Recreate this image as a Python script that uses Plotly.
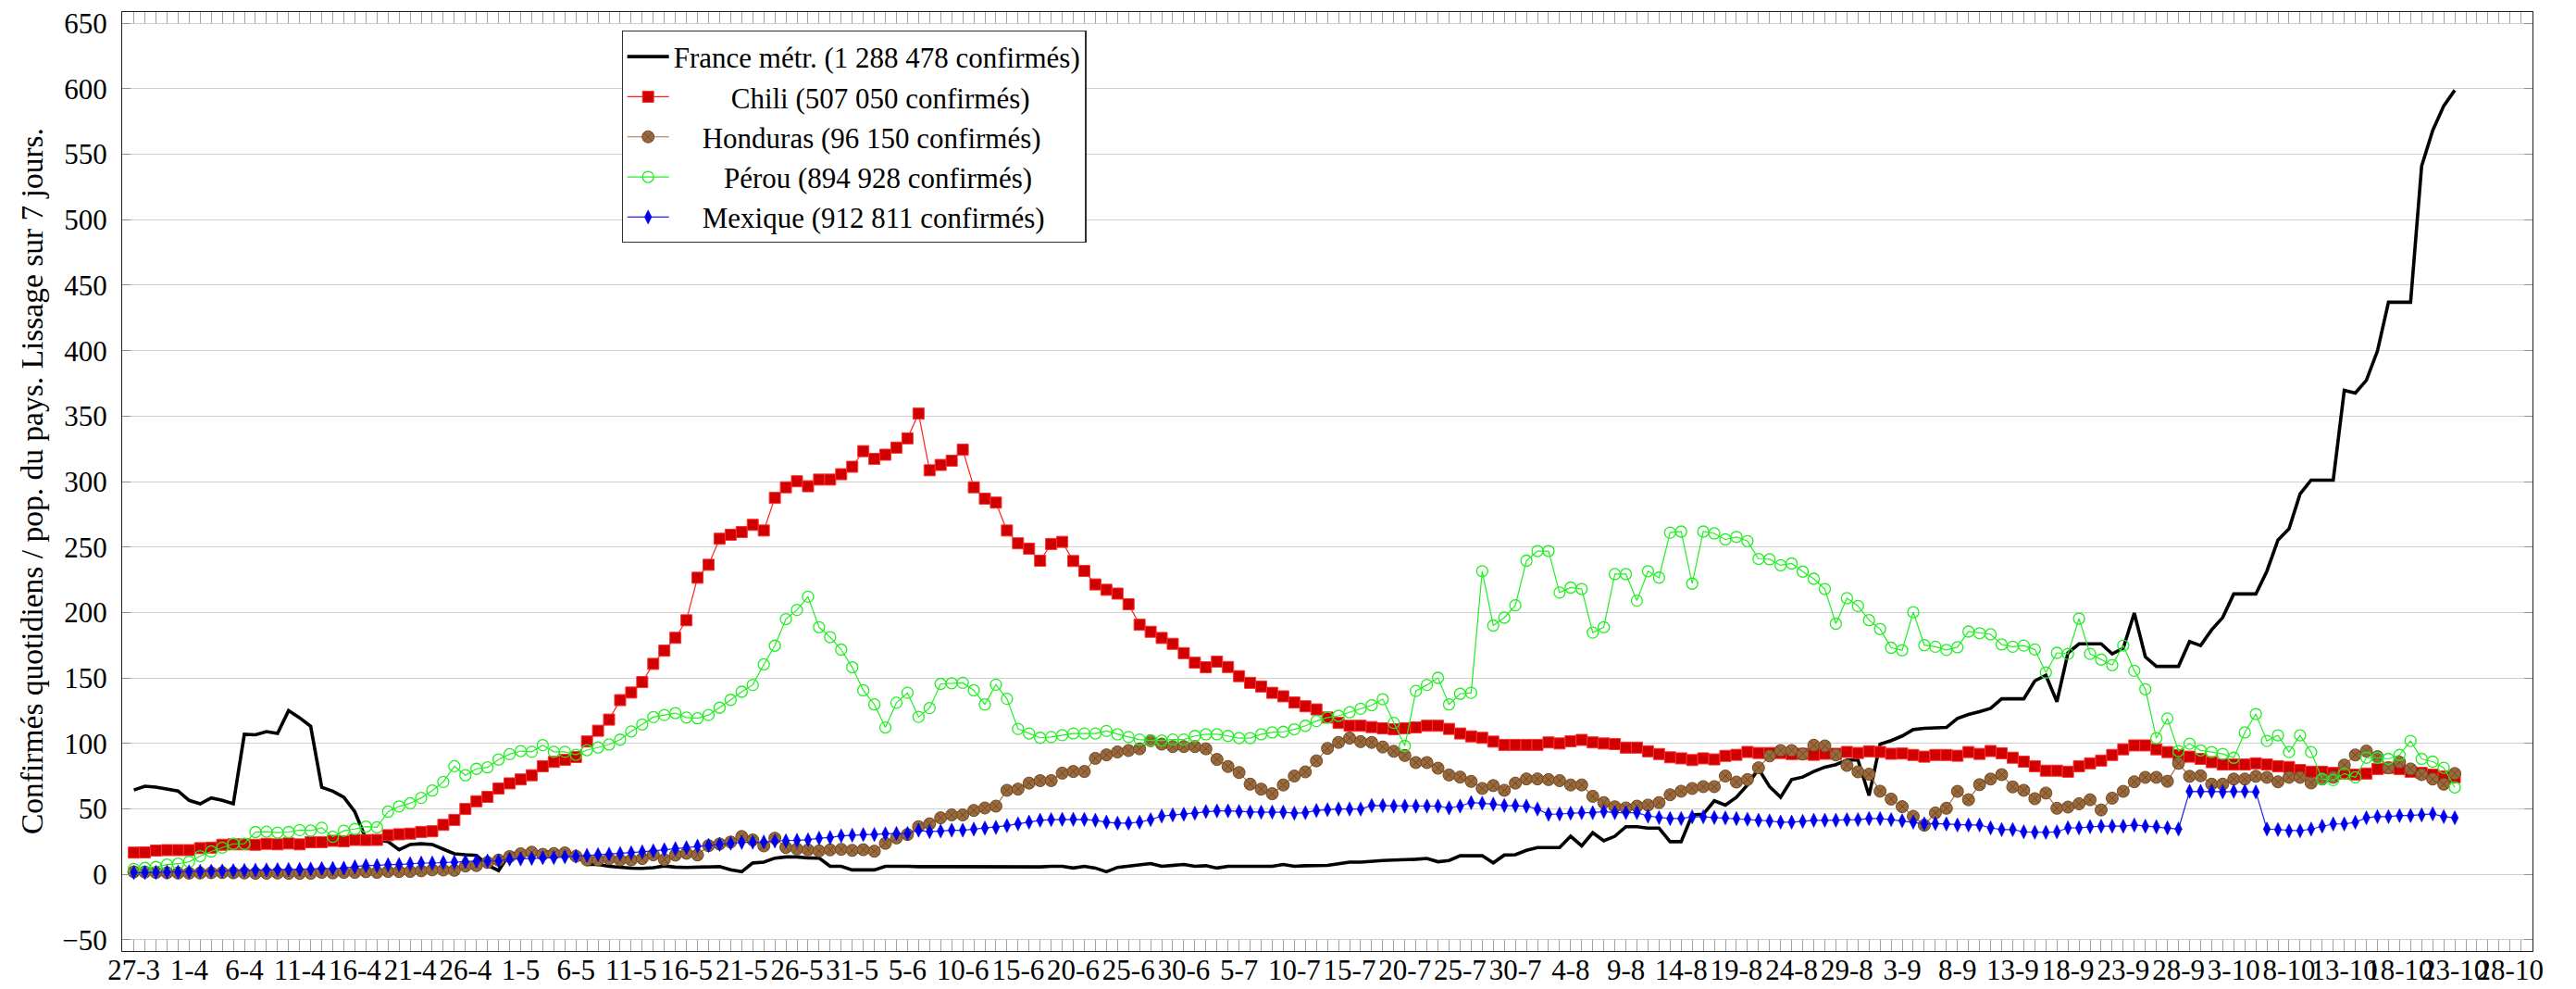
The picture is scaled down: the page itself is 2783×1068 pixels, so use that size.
import pandas as pd
import plotly.graph_objects as go

# ---------------- data (daily, 7-day smoothed, per population) ----------------
start_date = "2020-03-27"
n_days = 211

france = [
    64.3, 67.2, 66.5, 65.0, 63.6, 56.4, 53.8, 58.2, 56.4, 53.8,
    106.9, 106.5, 109.0, 107.6, 125.0, 119.5, 113.0, 66.4, 63.4, 58.8,
    47.6, 27.0, 26.0, 25.0, 18.7, 22.7, 23.3, 22.7, 19.1, 15.6,
    14.9, 14.4, 7.0, 2.8, 15.6, 16.5, 17.0, 16.8, 17.0, 16.3,
    15.0, 7.5, 7.4, 6.0, 5.0, 4.6, 4.4, 5.0, 6.3, 5.4,
    5.2, 5.6, 5.8, 5.8, 3.4, 1.9, 8.6, 9.2, 12.3, 13.2,
    13.2, 12.4, 12.3, 6.0, 6.0, 3.3, 3.3, 3.3, 6.0, 6.3,
    6.0, 5.8, 5.8, 5.6, 5.6, 5.5, 5.4, 5.4, 5.2, 5.2,
    5.2, 5.4, 5.6, 6.0, 6.0, 4.7, 6.0, 4.7, 1.9, 5.2,
    6.0, 7.4, 8.1, 6.0, 6.5, 7.4, 6.0, 6.5, 4.7, 6.0,
    6.0, 6.0, 6.5, 6.0, 7.4, 6.0, 6.5, 6.6, 6.7, 8.0,
    9.2, 9.2, 10.0, 10.5, 10.8, 10.8, 11.4, 12.0, 9.5, 10.5,
    14.1, 14.1, 14.1, 8.7, 14.6, 14.9, 18.2, 20.4, 20.4, 20.4,
    29.0, 21.7, 31.7, 25.5, 29.0, 36.3, 36.3, 35.2, 35.2, 24.9,
    24.9, 45.3, 45.8, 56.1, 52.8, 58.8, 68.2, 80.4, 66.9, 58.8,
    72.3, 74.2, 78.5, 81.8, 83.7, 87.2, 87.2, 60.1, 99.4, 102.1,
    105.6, 110.5, 111.5, 112.0, 112.1, 119.0, 122.0, 124.2, 126.7, 134.0,
    134.0, 134.0, 147.7, 152.0, 131.8, 169.1, 176.0, 176.0, 176.0, 168.3,
    172.6, 199.5, 166.1, 158.8, 158.8, 158.8, 177.7, 174.7, 186.7, 196.1,
    214.1, 214.1, 214.1, 231.6, 255.3, 263.9, 290.5, 301.1, 301.1, 301.1,
    369.7, 367.6, 377.4, 399.7, 437.0, 437.0, 437.0, 541.1, 568.2, 587.0,
    599.0,
]

chili = [
    16.5, 16.7, 18.1, 18.4, 18.4, 18.4, 19.9, 20.3, 22.5, 22.8,
    22.8, 22.5, 23.2, 22.8, 23.5, 22.8, 24.4, 24.5, 25.5, 25.2,
    26.2, 26.1, 26.2, 29.8, 30.5, 31.0, 32.3, 32.8, 37.7, 41.5,
    49.8, 55.7, 59.1, 65.4, 69.4, 72.4, 75.6, 82.5, 85.8, 87.4,
    89.5, 101.4, 109.6, 118.1, 133.0, 138.8, 146.8, 160.7, 170.8, 180.6,
    194.0, 226.5, 236.4, 256.3, 259.3, 261.4, 266.9, 262.6, 287.5, 295.6,
    300.2, 296.4, 301.5, 301.5, 305.6, 311.3, 323.2, 317.3, 320.5, 325.9,
    333.0, 351.9, 308.6, 312.7, 315.9, 324.3, 295.6, 286.9, 283.9, 262.6,
    252.8, 248.7, 239.5, 252.3, 253.9, 239.3, 231.7, 221.4, 217.3, 214.4,
    206.3, 190.6, 185.2, 180.5, 176.0, 168.9, 161.6, 158.1, 162.4, 158.3,
    151.3, 146.2, 143.4, 138.6, 135.9, 131.2, 128.3, 125.9, 119.7, 115.6,
    113.4, 113.4, 112.4, 111.5, 110.7, 111.5, 112.1, 113.4, 113.4, 111.0,
    107.5, 105.3, 104.2, 101.3, 98.8, 98.8, 98.8, 98.8, 100.7, 99.9,
    101.6, 102.6, 100.7, 99.9, 99.4, 96.7, 96.7, 93.9, 91.8, 89.3,
    88.5, 87.2, 88.5, 87.7, 90.4, 91.2, 93.4, 92.6, 92.6, 92.6,
    91.8, 92.0, 91.2, 92.0, 92.0, 93.4, 92.6, 93.9, 93.4, 92.0,
    92.2, 91.1, 89.8, 91.1, 91.1, 90.5, 93.3, 91.9, 94.1, 92.4,
    89.0, 86.0, 82.5, 79.1, 79.1, 78.3, 82.5, 84.7, 86.8, 91.1,
    95.4, 98.4, 98.4, 95.4, 93.3, 91.1, 89.8, 88.1, 85.6, 83.8,
    83.8, 83.8, 84.7, 83.8, 82.5, 81.9, 79.6, 78.3, 78.3, 77.4,
    76.9, 76.1, 76.9, 80.4, 81.3, 80.4, 78.3, 77.4, 76.1, 74.8,
    74.0,
]

honduras = [
    1.8, 1.6, 1.3, 1.1, 0.9, 0.8, 0.9, 1.1, 1.2, 1.0,
    0.9, 0.7, 0.8, 0.9, 0.7, 0.6, 0.7, 1.4, 1.0, 1.4,
    1.4, 1.9, 1.4, 2.1, 2.1, 2.1, 2.6, 3.3, 3.2, 3.0,
    6.2, 6.6, 9.0, 10.8, 13.5, 15.6, 16.8, 15.2, 15.8, 16.3,
    13.8, 10.9, 10.9, 11.8, 10.9, 10.9, 12.0, 14.8, 11.2, 14.6,
    16.0, 14.7, 21.8, 23.1, 24.6, 28.8, 26.2, 21.6, 27.5, 20.4,
    19.3, 18.6, 17.8, 18.6, 19.0, 18.2, 18.7, 17.6, 23.6, 27.7,
    30.3, 36.3, 38.5, 43.1, 45.3, 45.3, 48.7, 50.6, 52.0, 64.1,
    65.0, 69.6, 71.5, 71.5, 77.2, 78.5, 78.5, 88.5, 91.2, 93.4,
    94.5, 95.8, 102.0, 99.4, 97.5, 97.5, 97.5, 95.8, 87.7, 82.3,
    77.7, 68.8, 65.0, 61.5, 68.2, 75.0, 78.2, 86.6, 96.1, 100.7,
    104.0, 101.3, 100.7, 97.2, 93.9, 90.7, 85.3, 85.3, 81.0, 75.8,
    74.2, 70.9, 65.5, 67.7, 64.1, 69.6, 72.8, 72.8, 72.3, 71.5,
    68.2, 68.2, 59.5, 54.7, 51.5, 50.6, 52.0, 52.8, 54.7, 60.7,
    63.4, 65.5, 66.9, 66.9, 75.0, 70.4, 72.3, 81.3, 90.4, 94.5,
    94.5, 91.8, 98.5, 98.0, 91.2, 83.1, 78.2, 76.4, 63.4, 57.4,
    51.6, 44.2, 37.4, 46.8, 50.4, 63.3, 56.9, 68.4, 72.7, 76.1,
    66.7, 64.1, 57.7, 62.0, 50.4, 51.3, 53.8, 56.9, 49.1, 58.1,
    63.3, 70.6, 74.0, 74.0, 71.0, 84.7, 74.8, 75.2, 68.8, 68.8,
    72.7, 72.7, 74.8, 74.0, 70.6, 74.0, 74.0, 69.7, 72.7, 74.0,
    83.4, 91.1, 94.1, 89.8, 81.3, 85.6, 80.4, 76.1, 72.7, 68.8,
    76.9,
]

perou = [
    4.0, 4.8, 5.5, 7.3, 8.0, 9.5, 13.8, 17.4, 20.3, 23.2,
    23.2, 32.2, 32.5, 31.8, 32.2, 33.7, 33.3, 35.5, 28.6, 33.2,
    34.5, 36.3, 35.8, 47.8, 51.8, 54.2, 58.3, 63.9, 70.5, 82.5,
    75.6, 80.5, 81.6, 87.6, 91.7, 94.1, 93.5, 98.6, 93.5, 93.5,
    91.2, 94.8, 96.8, 99.1, 102.8, 109.1, 114.4, 120.0, 121.6, 123.1,
    119.7, 119.1, 121.6, 127.2, 133.2, 139.4, 144.6, 160.3, 174.6, 194.9,
    201.9, 212.0, 188.7, 181.1, 171.6, 158.1, 140.5, 129.7, 112.1, 131.0,
    138.6, 120.2, 126.9, 145.4, 145.9, 146.2, 140.5, 129.7, 144.8, 134.0,
    111.0, 107.5, 104.2, 104.8, 106.2, 107.5, 107.5, 107.5, 109.4, 106.9,
    104.8, 102.9, 102.1, 102.1, 102.9, 102.9, 105.6, 106.9, 106.9, 105.6,
    104.0, 104.0, 106.9, 108.3, 108.8, 110.7, 113.4, 117.0, 119.7, 121.0,
    123.7, 126.4, 129.1, 133.7, 115.6, 98.0, 140.0, 144.6, 150.0, 129.7,
    137.8, 138.6, 231.5, 190.0, 196.0, 205.4, 239.5, 246.9, 246.9, 215.2,
    219.0, 217.9, 184.6, 188.7, 229.3, 229.3, 209.0, 231.5, 226.6, 261.0,
    261.8, 222.0, 261.8, 260.4, 255.8, 257.7, 254.5, 240.9, 240.6, 236.0,
    237.4, 231.2, 225.7, 217.9, 191.4, 210.9, 204.9, 194.1, 187.3, 173.0,
    171.1, 200.2, 175.0, 173.8, 171.3, 173.4, 185.4, 184.1, 183.3, 175.5,
    173.8, 174.7, 171.7, 154.1, 169.1, 168.3, 195.3, 168.3, 164.0, 159.7,
    174.7, 155.4, 141.3, 104.0, 119.0, 94.1, 99.7, 94.6, 93.3, 91.9,
    89.0, 108.3, 122.4, 101.8, 106.1, 93.3, 106.1, 93.3, 72.7, 71.9,
    76.9, 74.0, 89.0, 89.0, 88.1, 91.1, 101.8, 88.1, 86.0, 81.3,
    66.3,
]

mexique = [
    1.2, 1.3, 1.4, 1.6, 1.7, 1.9, 2.1, 2.3, 2.5, 2.7,
    2.9, 3.1, 3.3, 3.5, 3.6, 3.7, 3.9, 4.3, 4.4, 4.6,
    5.7, 6.6, 6.6, 7.3, 7.4, 8.0, 8.5, 8.5, 9.0, 9.2,
    9.7, 10.0, 10.1, 10.2, 11.5, 11.7, 12.0, 12.6, 12.7, 13.2,
    13.7, 14.4, 15.0, 15.3, 15.8, 16.4, 17.1, 17.8, 18.7, 19.5,
    20.3, 21.4, 22.0, 22.8, 23.6, 24.3, 24.4, 24.6, 25.3, 25.5,
    25.8, 26.3, 27.5, 28.0, 29.3, 29.8, 30.3, 30.3, 30.9, 31.1,
    31.1, 33.6, 32.5, 33.0, 33.6, 33.6, 34.4, 35.2, 35.8, 37.1,
    38.5, 39.8, 41.2, 41.7, 41.9, 41.9, 41.9, 41.2, 39.8, 39.0,
    39.0, 39.8, 41.7, 44.4, 45.3, 45.8, 46.6, 47.9, 48.4, 48.4,
    47.9, 47.4, 47.4, 47.4, 47.4, 46.6, 47.0, 48.7, 49.3, 49.8,
    49.8, 49.8, 52.5, 52.5, 52.0, 52.0, 52.0, 52.0, 52.0, 50.6,
    52.0, 54.7, 54.2, 53.5, 52.5, 52.5, 52.0, 49.8, 45.8, 46.0,
    46.6, 47.0, 47.0, 47.9, 47.0, 47.0, 47.0, 44.4, 43.3, 42.5,
    42.5, 43.8, 43.8, 43.3, 43.0, 42.5, 42.0, 41.2, 40.7, 39.8,
    39.8, 40.4, 41.2, 41.2, 41.2, 41.7, 41.7, 42.5, 42.5, 41.7,
    40.8, 39.7, 38.5, 38.7, 38.4, 37.6, 37.6, 37.6, 35.4, 34.1,
    34.1, 32.4, 32.0, 32.0, 32.4, 35.4, 35.4, 36.3, 36.7, 36.7,
    36.7, 37.6, 36.7, 36.3, 35.4, 34.5, 63.3, 63.3, 63.3, 62.9,
    63.3, 63.3, 62.9, 34.5, 34.1, 33.2, 33.2, 34.5, 36.7, 38.4,
    38.4, 39.7, 43.1, 44.0, 44.0, 44.8, 44.8, 45.3, 46.1, 44.0,
    43.1,
]

series_names = [
    "France métr. (1 288 478 confirmés)",
    "Chili (507 050 confirmés)",
    "Honduras (96 150 confirmés)",
    "Pérou (894 928 confirmés)",
    "Mexique (912 811 confirmés)",
]
# leading non-breaking spaces so the legend labels look centred, as in the original
legend_pad = [0, 8, 4, 7, 4]
y_title = "Confirmés quotidiens / pop. du pays. Lissage sur 7 jours."
y_ticks = [-50, 0, 50, 100, 150, 200, 250, 300, 350, 400, 450, 500, 550, 600, 650]

for s in (france, chili, honduras, perou, mexique):
    assert len(s) == n_days, len(s)

dates = pd.date_range(start_date, periods=n_days, freq="D")
labels = ["\u00a0" * p + n for p, n in zip(legend_pad, series_names)]

# --------------------------------- styling ---------------------------------
FONT = "Liberation Serif"
W, H = 2783, 1068
ML, MR, MT, MB = 132, 47, 13, 41
plot_w = W - ML - MR

fig = go.Figure()

fig.add_trace(go.Scatter(
    x=dates, y=france, name=labels[0], mode="lines",
    line=dict(color="black", width=3.6),
))
fig.add_trace(go.Scatter(
    x=dates, y=chili, name=labels[1], mode="lines+markers",
    line=dict(color="#ff2020", width=1.2),
    marker=dict(symbol="square", size=12, color="#d00000",
                line=dict(color="#ff3030", width=1)),
))
fig.add_trace(go.Scatter(
    x=dates, y=honduras, name=labels[2], mode="lines+markers",
    line=dict(color="#a8703c", width=1.2),
    marker=dict(symbol="circle-x", size=13, color="#9a6a3c",
                line=dict(color="#6e4824", width=1)),
))
fig.add_trace(go.Scatter(
    x=dates, y=perou, name=labels[3], mode="lines+markers",
    line=dict(color="#22ee22", width=1.2),
    marker=dict(symbol="circle-open", size=12, color="#22ee22",
                line=dict(width=1.3)),
))
fig.add_trace(go.Scatter(
    x=dates, y=mexique, name=labels[4], mode="lines+markers",
    line=dict(color="#2020ff", width=1.2),
    marker=dict(symbol="diamond-tall", size=11, color="#0000ee",
                line=dict(color="#0000ee", width=0.5)),
))

day_ms = 86400000
t0 = pd.Timestamp(start_date)
x_range = [t0 - pd.Timedelta(days=1.055), t0 + pd.Timedelta(days=217.03)]

fig.update_xaxes(
    type="date",
    range=x_range,
    tick0=start_date,
    dtick=5 * day_ms,
    tickformat="%-d-%-m",
    tickangle=0,
    ticks="inside",
    ticklen=12,
    tickcolor="#a0a0a0",
    tickwidth=1,
    minor=dict(dtick=day_ms, ticks="inside", ticklen=12,
               tickcolor="#a0a0a0", tickwidth=1, showgrid=False),
    showgrid=False,
    showline=True,
    linecolor="#202020",
    linewidth=1.2,
    mirror="ticks",
    zeroline=False,
    tickfont=dict(family=FONT, size=31, color="black"),
    ticklabelstandoff=-7,
)
fig.update_yaxes(
    range=[-58.7, 658.7],
    tickvals=y_ticks,
    ticks="inside",
    ticklen=9,
    tickcolor="#909090",
    showgrid=True,
    gridcolor="#cfcfcf",
    gridwidth=1.3,
    showline=True,
    linecolor="#202020",
    linewidth=1.2,
    mirror="ticks",
    zeroline=False,
    tickfont=dict(family=FONT, size=31, color="black"),
    ticklabelstandoff=9,
)

fig.add_annotation(
    text=y_title, textangle=-90,
    xref="paper", yref="paper",
    x=(34 - ML) / plot_w, y=0.5,
    xanchor="center", yanchor="middle",
    showarrow=False,
    font=dict(family=FONT, size=33.5, color="black"),
)

fig.update_layout(
    width=W, height=H,
    margin=dict(l=ML, r=MR, t=MT, b=MB, autoexpand=False),
    paper_bgcolor="white",
    plot_bgcolor="white",
    font=dict(family=FONT, size=31, color="black"),
    showlegend=True,
    legend=dict(
        x=(671.5 - ML) / plot_w, y=0.98,
        xanchor="left", yanchor="top",
        bgcolor="white",
        bordercolor="#303030",
        borderwidth=1.2,
        font=dict(family=FONT, size=31, color="black"),
        itemwidth=45,
        tracegroupgap=0,
    ),
)

fig.write_html(
    "out.html",
    config={"displayModeBar": False},
    post_script="document.body.style.margin='0px';document.body.style.padding='0px';",
)
